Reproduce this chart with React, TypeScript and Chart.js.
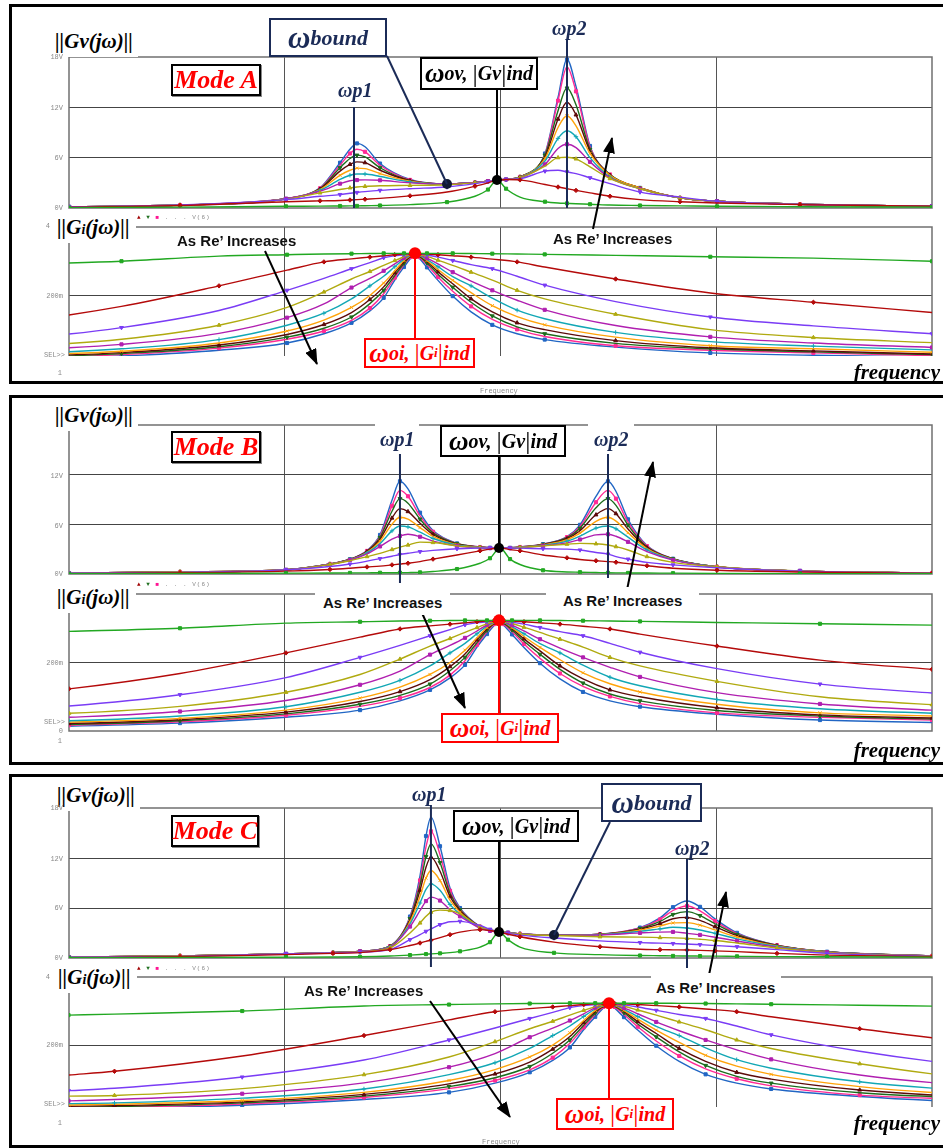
import React, { useEffect, useRef } from "react";
import { Chart, registerables } from "chart.js";
Chart.register(...registerables);

// ---------- series meta (index 0 = lowest Re', 10 = highest Re') ----------
const SERIES_NAMES = ["Re'1", "Re'2", "Re'3", "Re'4", "Re'5", "Re'6", "Re'7", "Re'8", "Re'9", "Re'10", "Re'11"];
const COLORS = ["#22a822", "#b40a0a", "#7a3cf5", "#b0aa10", "#b01fb0", "#12a7b5", "#ffa30a", "#5c0a0a", "#1d6b1d", "#ff2a95", "#2166c4"];
const POINT_STYLES = ["rect", "rectRot", "triangle", "triangle", "rect", "cross", "crossRot", "triangle", "triangle", "rect", "rect"];
const POINT_ROT = [0, 0, 180, 0, 0, 0, 0, 0, 180, 0, 0];
const X_GRID = [10, 100, 1000];

// ---------- Mode A : ||Gv(jw)|| ----------
const FREQ_GV_A = [1, 3.27, 10.13, 14.57, 18.04, 20.06, 21.62, 23.55, 27.64, 38.07, 56.49, 76.17, 87.5, 96.3, 106.1, 123.1, 160.8, 184.8, 203.3, 223.8, 259.9, 321.7, 443.2, 679.2, 1008, 2444, 10000];
const gvA_green = [0.05, 0.1, 0.2, 0.22, 0.24, 0.25, 0.25, 0.27, 0.3, 0.4, 0.7, 1.4, 2.2, 3.34, 2.3, 1.3, 0.75, 0.6, 0.55, 0.5, 0.45, 0.35, 0.3, 0.25, 0.2, 0.15, 0.1];
const gvA_red = [0.1, 0.3, 0.75, 0.85, 0.9, 0.95, 1.0, 1.05, 1.15, 1.45, 1.9, 2.6, 3.0, 3.34, 3.4, 3.35, 2.8, 2.5, 2.3, 2.1, 1.8, 1.4, 1.0, 0.75, 0.6, 0.4, 0.2];
const gvA_violet = [0.15, 0.35, 1.0, 1.4, 1.6, 1.75, 1.85, 1.95, 2.1, 2.3, 2.5, 2.9, 3.15, 3.34, 3.42, 3.5, 4.4, 4.5, 4.3, 4.1, 3.6, 2.9, 1.9, 1.3, 0.8, 0.45, 0.22];
const gvA_olive = [0.15, 0.35, 1.05, 1.8, 2.2, 2.4, 2.5, 2.58, 2.65, 2.7, 2.78, 3.0, 3.18, 3.34, 3.42, 3.6, 5.0, 6.0, 6.05, 5.85, 4.9, 3.5, 2.3, 1.2, 0.8, 0.45, 0.22];
const gvA_magenta = [0.15, 0.35, 1.1, 2.0, 2.9, 3.25, 3.33, 3.35, 3.3, 3.0, 2.86, 3.05, 3.2, 3.34, 3.4, 3.62, 5.2, 7.1, 7.6, 7.2, 5.5, 3.6, 2.3, 1.2, 0.8, 0.45, 0.22];
const gvA_cyan = [0.15, 0.35, 1.1, 2.1, 3.4, 3.9, 4.05, 4.05, 3.75, 3.1, 2.86, 3.05, 3.2, 3.34, 3.4, 3.65, 5.6, 8.3, 9.2, 8.5, 6.0, 3.7, 2.3, 1.2, 0.8, 0.45, 0.22];
const gvA_orange = [0.15, 0.35, 1.1, 2.2, 3.9, 4.5, 4.75, 4.7, 4.1, 3.2, 2.86, 3.05, 3.2, 3.34, 3.4, 3.68, 5.9, 9.6, 11.0, 9.8, 6.5, 3.9, 2.4, 1.2, 0.8, 0.45, 0.22];
const gvA_brown = [0.15, 0.35, 1.1, 2.25, 4.4, 5.2, 5.5, 5.4, 4.5, 3.25, 2.86, 3.05, 3.2, 3.34, 3.4, 3.7, 6.1, 10.6, 12.6, 11.1, 6.8, 3.9, 2.4, 1.2, 0.8, 0.45, 0.22];
const gvA_dkgreen = [0.15, 0.35, 1.1, 2.3, 4.8, 5.9, 6.3, 6.1, 4.8, 3.3, 2.86, 3.05, 3.2, 3.34, 3.4, 3.7, 6.3, 11.6, 14.3, 12.3, 7.0, 4.0, 2.4, 1.2, 0.8, 0.45, 0.22];
const gvA_pink = [0.15, 0.35, 1.1, 2.35, 5.1, 6.5, 7.0, 6.7, 5.1, 3.35, 2.86, 3.05, 3.2, 3.34, 3.4, 3.7, 6.4, 12.8, 16.8, 13.9, 7.3, 4.0, 2.4, 1.2, 0.8, 0.45, 0.22];
const gvA_blue = [0.15, 0.35, 1.1, 2.4, 5.4, 7.0, 7.7, 7.3, 5.3, 3.4, 2.86, 3.05, 3.2, 3.34, 3.4, 3.7, 6.5, 13.2, 17.7, 14.5, 7.4, 4.0, 2.4, 1.2, 0.8, 0.45, 0.22];

// ---------- Mode B : ||Gv(jw)|| ----------
const FREQ_GV_B = [1, 3.27, 10.13, 16.2, 20.06, 24.06, 27.64, 31.41, 34.2, 37.26, 42.37, 48.66, 62.86, 80.36, 89.4, 99.47, 110.7, 123.1, 157.4, 203.3, 233.6, 277.1, 314.9, 343.0, 389.9, 477.5, 630.2, 1008, 2444, 10000];
const gvB_green = [0.03, 0.06, 0.1, 0.12, 0.13, 0.14, 0.15, 0.15, 0.16, 0.17, 0.2, 0.3, 0.6, 1.3, 1.9, 3.14, 1.8, 1.15, 0.45, 0.25, 0.22, 0.18, 0.15, 0.14, 0.13, 0.12, 0.1, 0.08, 0.05, 0.03];
const gvB_red = [0.05, 0.15, 0.35, 0.55, 0.7, 0.85, 0.95, 1.1, 1.2, 1.3, 1.5, 1.8, 2.3, 2.8, 3.0, 3.14, 2.95, 2.8, 2.3, 1.95, 1.75, 1.6, 1.5, 1.42, 1.25, 1.0, 0.7, 0.45, 0.25, 0.08];
const gvB_violet = [0.1, 0.2, 0.5, 0.9, 1.2, 1.55, 1.85, 2.15, 2.35, 2.5, 2.7, 2.85, 3.05, 3.15, 3.15, 3.14, 3.14, 3.12, 3.05, 3.0, 2.9, 2.6, 2.4, 2.1, 1.8, 1.4, 1.1, 0.75, 0.35, 0.1];
const gvB_olive = [0.1, 0.25, 0.5, 1.15, 1.6, 2.1, 2.5, 2.95, 3.25, 3.5, 3.85, 3.8, 3.4, 3.2, 3.15, 3.14, 3.15, 3.2, 3.4, 3.6, 3.7, 3.65, 3.5, 3.3, 2.9, 2.1, 1.4, 0.85, 0.37, 0.12];
const gvB_magenta = [0.1, 0.25, 0.5, 1.18, 1.68, 2.43, 3.33, 4.2, 4.6, 4.8, 4.5, 3.97, 3.39, 3.17, 3.12, 3.1, 3.12, 3.19, 3.41, 3.76, 4.17, 4.73, 4.8, 4.56, 3.88, 2.7, 1.68, 0.85, 0.38, 0.12];
const gvB_cyan = [0.1, 0.25, 0.5, 1.19, 1.71, 2.54, 3.67, 5.21, 5.8, 5.69, 5.05, 4.29, 3.49, 3.2, 3.14, 3.11, 3.14, 3.21, 3.47, 3.97, 4.58, 5.55, 5.8, 5.46, 4.45, 2.9, 1.73, 0.86, 0.38, 0.12];
const gvB_orange = [0.1, 0.25, 0.51, 1.2, 1.73, 2.63, 3.96, 6.01, 6.85, 6.63, 5.61, 4.55, 3.55, 3.22, 3.15, 3.12, 3.15, 3.23, 3.52, 4.14, 4.94, 6.37, 6.85, 6.39, 4.98, 3.06, 1.77, 0.87, 0.38, 0.12];
const gvB_brown = [0.1, 0.25, 0.51, 1.2, 1.75, 2.7, 4.2, 6.76, 7.9, 7.54, 6.12, 4.77, 3.6, 3.24, 3.17, 3.13, 3.16, 3.24, 3.55, 4.27, 5.24, 7.15, 7.9, 7.29, 5.44, 3.18, 1.8, 0.87, 0.38, 0.12];
const gvB_dkgreen = [0.1, 0.25, 0.51, 1.21, 1.77, 2.75, 4.42, 7.58, 9.1, 8.56, 6.63, 4.97, 3.65, 3.25, 3.17, 3.14, 3.17, 3.25, 3.58, 4.38, 5.53, 8.0, 9.1, 8.29, 5.91, 3.29, 1.82, 0.88, 0.38, 0.12];
const gvB_pink = [0.1, 0.25, 0.51, 1.21, 1.78, 2.79, 4.58, 8.23, 10.1, 9.39, 7.02, 5.11, 3.68, 3.26, 3.18, 3.14, 3.17, 3.26, 3.6, 4.46, 5.74, 8.67, 10.1, 9.1, 6.26, 3.37, 1.83, 0.88, 0.38, 0.12];
const gvB_blue = [0.1, 0.25, 0.51, 1.21, 1.78, 2.83, 4.72, 8.91, 11.2, 10.28, 7.41, 5.25, 3.7, 3.26, 3.18, 3.14, 3.17, 3.26, 3.61, 4.53, 5.94, 9.38, 11.2, 9.97, 6.61, 3.44, 1.85, 0.88, 0.38, 0.12];

// ---------- Mode C : ||Gv(jw)|| ----------
const FREQ_GV_C = [1, 3.27, 10.13, 16.73, 22.33, 30.75, 38.07, 42.37, 45.15, 47.63, 52.44, 58.34, 64.91, 80.36, 89.4, 98.42, 108.3, 123.1, 177.0, 289.2, 443.2, 548.8, 630.2, 731.9, 840.9, 986.7, 1248, 1912, 3261, 10000];
const gvC_green = [0.03, 0.06, 0.1, 0.12, 0.15, 0.24, 0.35, 0.42, 0.47, 0.5, 0.56, 0.64, 0.8, 1.3, 1.9, 3.12, 2.2, 1.3, 0.62, 0.4, 0.3, 0.27, 0.25, 0.24, 0.23, 0.22, 0.2, 0.17, 0.15, 0.1];
const gvC_red = [0.05, 0.15, 0.4, 0.55, 0.65, 1.0, 1.5, 1.8, 2.0, 2.15, 2.45, 2.8, 3.1, 3.4, 3.3, 3.12, 2.85, 2.55, 1.9, 1.35, 1.05, 1.0, 0.98, 0.96, 0.92, 0.86, 0.76, 0.55, 0.35, 0.15];
const gvC_violet = [0.1, 0.2, 0.5, 0.6, 0.7, 1.0, 2.2, 2.8, 3.2, 3.5, 4.0, 4.35, 4.4, 3.9, 3.45, 3.12, 2.95, 2.75, 2.4, 2.05, 1.85, 1.78, 1.73, 1.68, 1.6, 1.5, 1.35, 1.0, 0.55, 0.2];
const gvC_olive = [0.1, 0.25, 0.5, 0.62, 0.75, 1.2, 3.0, 4.2, 5.0, 5.5, 5.75, 5.7, 5.3, 3.75, 3.4, 3.12, 3.0, 2.85, 2.7, 2.55, 2.5, 2.45, 2.42, 2.36, 2.25, 2.1, 1.8, 1.2, 0.65, 0.22];
const gvC_magenta = [0.1, 0.25, 0.5, 0.65, 0.8, 1.3, 3.77, 5.7, 6.83, 7.3, 6.89, 5.79, 5.0, 3.58, 3.25, 3.07, 3.03, 2.89, 2.73, 2.76, 3.01, 3.11, 3.13, 2.96, 2.77, 2.49, 2.04, 1.31, 0.7, 0.24];
const gvC_cyan = [0.1, 0.25, 0.5, 0.65, 0.8, 1.35, 4.09, 6.6, 8.23, 8.9, 8.13, 6.41, 5.27, 3.64, 3.28, 3.1, 3.04, 2.9, 2.74, 2.8, 3.2, 3.5, 3.69, 3.6, 3.36, 2.96, 2.3, 1.39, 0.72, 0.24];
const gvC_orange = [0.1, 0.25, 0.5, 0.65, 0.8, 1.38, 4.35, 7.4, 9.59, 10.5, 9.3, 6.94, 5.49, 3.69, 3.31, 3.11, 3.05, 2.9, 2.75, 2.83, 3.34, 3.84, 4.21, 4.24, 3.94, 3.37, 2.51, 1.44, 0.74, 0.24];
const gvC_brown = [0.1, 0.25, 0.5, 0.65, 0.8, 1.4, 4.56, 8.12, 10.9, 12.1, 10.41, 7.38, 5.66, 3.72, 3.32, 3.12, 3.05, 2.9, 2.75, 2.84, 3.44, 4.13, 4.71, 4.88, 4.51, 3.75, 2.68, 1.48, 0.75, 0.24];
const gvC_dkgreen = [0.1, 0.25, 0.5, 0.65, 0.8, 1.42, 4.72, 8.76, 12.17, 13.7, 11.46, 7.76, 5.79, 3.75, 3.34, 3.13, 3.05, 2.9, 2.75, 2.86, 3.53, 4.39, 5.22, 5.56, 5.09, 4.11, 2.82, 1.51, 0.75, 0.24];
const gvC_pink = [0.1, 0.25, 0.5, 0.65, 0.8, 1.43, 4.86, 9.31, 13.34, 15.2, 12.4, 8.08, 5.9, 3.77, 3.35, 3.13, 3.05, 2.9, 2.76, 2.87, 3.6, 4.63, 5.7, 6.24, 5.66, 4.43, 2.93, 1.53, 0.76, 0.24];
const gvC_blue = [0.1, 0.25, 0.5, 0.65, 0.8, 1.45, 4.98, 9.88, 14.63, 16.9, 13.41, 8.39, 6.0, 3.78, 3.36, 3.14, 3.05, 2.9, 2.76, 2.87, 3.65, 4.81, 6.1, 6.84, 6.14, 4.7, 3.02, 1.54, 0.76, 0.24];

// ---------- ||Gi(jw)|| (values in m, same curve family, read around each wOi) ----------
const FREQ_GI_A = [0.398, 0.589, 1.751, 4.958, 10.25, 15.19, 20.39, 24.81, 28.74, 32.36, 35.7, 38.23, 40.16, 42.17, 45.63, 51.32, 60.04, 73.06, 91.62, 119.4, 160.3, 341.7, 938.5, 2820, 10000];
const FREQ_GI_B = [0.6527, 1, 3.27, 10.13, 22.33, 34.2, 47.13, 58.34, 68.46, 77.83, 86.57, 93.31, 98.42, 103.8, 113.1, 128.5, 152.4, 188.7, 241.2, 321.7, 443.2, 1008, 3026, 10000, 39620];
const FREQ_GI_C = [0.9947, 1.625, 6.351, 23.29, 57.72, 94.29, 136.6, 174.6, 209.7, 243.0, 274.8, 299.5, 318.4, 338.5, 373.6, 432.6, 526.9, 673.5, 892.6, 1244, 1797, 4623, 16340, 64710, 314100];
const gi_green = [288, 291, 300, 315, 319, 321, 322, 322.5, 323, 323, 323, 323, 323, 323, 323, 323, 323, 322.5, 322, 321, 320, 317, 313, 309, 300];
const gi_red = [112, 123, 168, 228, 274, 298, 307, 312, 316, 319, 321, 322, 323, 322, 321, 319, 316, 312, 306, 298, 283, 248, 207, 180, 150];
const gi_violet = [66, 73, 106, 156, 215, 250, 278, 296, 310, 316, 319, 322, 323, 321, 318, 312, 302, 290, 278, 256, 230, 182, 137, 111, 88];
const gi_olive = [50, 52, 72, 113, 165, 210, 248, 270, 288, 302, 313, 320, 323, 320, 314, 303, 288, 268, 245, 215, 190, 145, 100, 77, 62];
const gi_magenta = [36, 40, 57, 89, 135, 175, 223, 250, 272, 292, 310, 319, 323, 319, 309, 292, 268, 242, 215, 186, 158, 112, 79, 61, 48];
const gi_cyan = [28, 30, 44, 71, 113, 148, 190, 228, 256, 284, 306, 318, 323, 318, 305, 284, 255, 228, 192, 157, 132, 92, 65, 52, 41];
const gi_orange = [24, 26, 37, 61, 96, 128, 165, 200, 236, 272, 302, 316, 323, 317, 302, 276, 244, 208, 170, 138, 114, 78, 53, 44, 34];
const gi_brown = [20, 22, 33, 55, 86, 115, 150, 188, 225, 266, 298, 315, 323, 316, 299, 269, 234, 190, 152, 120, 100, 68, 47, 38, 29];
const gi_dkgreen = [17, 19, 30, 50, 78, 104, 137, 176, 215, 258, 294, 314, 323, 314, 295, 262, 224, 180, 140, 108, 88, 60, 44, 35, 27];
const gi_pink = [15, 17, 27, 46, 72, 96, 127, 163, 205, 252, 290, 312, 323, 312, 290, 254, 212, 168, 130, 101, 80, 53, 40, 32, 24];
const gi_blue = [12, 14, 23, 40, 61, 88, 120, 155, 193, 245, 283, 308, 323, 308, 282, 244, 198, 152, 114, 88, 71, 49, 32, 25, 20];

// ---------- special frequencies / points ----------
const WP_A = [20.94, 203.3];
const WP_B = [34.2, 314.9];
const WP_C = [47.6, 731.9];
const WOV_A = [96.3, 3.34];
const WOV_B = [98.42, 3.14];
const WOV_C = [98.42, 3.12];
const WBOUND_A = [56.49, 2.86];
const WBOUND_C = [177.0, 2.76];
const WOI_A = [40.16, 323];
const WOI_B = [98.42, 323];
const WOI_C = [318.4, 323];

const GV_A = [gvA_green, gvA_red, gvA_violet, gvA_olive, gvA_magenta, gvA_cyan, gvA_orange, gvA_brown, gvA_dkgreen, gvA_pink, gvA_blue];
const GV_B = [gvB_green, gvB_red, gvB_violet, gvB_olive, gvB_magenta, gvB_cyan, gvB_orange, gvB_brown, gvB_dkgreen, gvB_pink, gvB_blue];
const GV_C = [gvC_green, gvC_red, gvC_violet, gvC_olive, gvC_magenta, gvC_cyan, gvC_orange, gvC_brown, gvC_dkgreen, gvC_pink, gvC_blue];
const GI = [gi_green, gi_red, gi_violet, gi_olive, gi_magenta, gi_cyan, gi_orange, gi_brown, gi_dkgreen, gi_pink, gi_blue];

const NAVY = "#1b2b57";
const SERIF = '"Liberation Serif", "Times New Roman", serif';
const SANS = '"Liberation Sans", Arial, sans-serif';
const MONO = '"Liberation Mono", "DejaVu Sans Mono", monospace';
const M = 40;

function SubChart(p: any) {
  const ref = useRef<HTMLCanvasElement | null>(null);
  const top = p.plotTop - M;
  const h = p.plotBottom - p.plotTop + 2 * M;
  useEffect(() => {
    const vlines = p.vlines || [];
    const dots = p.dots || [];
    const deco = {
      id: "deco",
      beforeDatasetsDraw(chart: any) {
        const { ctx, chartArea: a } = chart;
        ctx.save();
        ctx.strokeStyle = "#707070";
        ctx.lineWidth = 1.5;
        ctx.beginPath();
        if (p.bottomLine) {
          ctx.rect(a.left, a.top, a.right - a.left, a.bottom - a.top);
        } else {
          ctx.moveTo(a.left, a.bottom);
          ctx.lineTo(a.left, a.top);
          ctx.lineTo(a.right, a.top);
          ctx.lineTo(a.right, a.bottom);
        }
        ctx.stroke();
        ctx.restore();
      },
      afterDatasetsDraw(chart: any) {
        const { ctx } = chart;
        const xs = chart.scales.x;
        const ys = chart.scales.y;
        ctx.save();
        vlines.forEach((l: any) => {
          const x = xs.getPixelForValue(l.f);
          const y0 = l.v !== undefined ? ys.getPixelForValue(l.v) : l.y0 - top;
          ctx.strokeStyle = l.color;
          ctx.lineWidth = l.width;
          ctx.beginPath();
          ctx.moveTo(x, y0);
          ctx.lineTo(x, l.y1 - top);
          ctx.stroke();
        });
        dots.forEach((d: any) => {
          ctx.fillStyle = d.color;
          ctx.beginPath();
          ctx.arc(xs.getPixelForValue(d.f), ys.getPixelForValue(d.v), d.r, 0, Math.PI * 2);
          ctx.fill();
        });
        ctx.restore();
      },
    };
    const chart = new Chart(ref.current as HTMLCanvasElement, {
      type: "line",
      data: {
        datasets: p.series.map((vals: number[], k: number) => ({
          label: SERIES_NAMES[k],
          data: vals.map((v, i) => ({ x: p.freq[i], y: v })),
          borderColor: COLORS[k],
          backgroundColor: COLORS[k],
          borderWidth: 1.4,
          cubicInterpolationMode: "monotone",
          fill: false,
          pointStyle: POINT_STYLES[k],
          pointRotation: POINT_ROT[k],
          pointRadius: (ctx: any) => (ctx.dataIndex % 2 === k % 2 ? 2.2 : 0),
          pointBorderWidth: 1,
          pointHoverRadius: 0,
        })),
      },
      options: {
        animation: false,
        responsive: false,
        maintainAspectRatio: false,
        devicePixelRatio: 1,
        events: [],
        layout: { padding: { left: 69, right: 11, top: M, bottom: M } },
        plugins: { legend: { display: false }, tooltip: { enabled: false } },
        scales: {
          x: {
            type: "logarithmic",
            min: 1,
            max: 10000,
            afterFit: (s: any) => { s.height = 0; },
            afterBuildTicks: (s: any) => { s.ticks = X_GRID.map((v) => ({ value: v })); },
            ticks: { display: false },
            grid: { color: "#555", lineWidth: 1, drawTicks: false },
            border: { display: false },
          },
          y: {
            type: "linear",
            min: p.yMin,
            max: p.yMax,
            afterFit: (s: any) => { s.width = 0; },
            afterBuildTicks: (s: any) => { s.ticks = p.yGrid.map((v: number) => ({ value: v })); },
            ticks: { display: false },
            grid: { color: "#444", lineWidth: 1, drawTicks: false },
            border: { display: false },
          },
        },
      } as any,
      plugins: [deco],
    } as any);
    return () => chart.destroy();
  }, []);
  return <canvas ref={ref} width={943} height={h} style={{ position: "absolute", left: 0, top, width: 943, height: h, zIndex: 1 }} />;
}

const abs = (x: number, y: number, extra: any = {}) => ({ position: "absolute" as const, left: x, top: y, whiteSpace: "nowrap" as const, lineHeight: 1, zIndex: 3, ...extra });

function Tick({ x, y, t }: any) {
  return <div style={{ position: "absolute", right: 943 - x, top: y - 4, font: `7px ${MONO}`, color: "#8a8a8a", lineHeight: "8px", zIndex: 3, whiteSpace: "nowrap" }}>{t}</div>;
}

function GvLabel({ x, y }: any) {
  return (
    <div style={abs(x, y, { font: `italic bold 21px ${SERIF}`, background: "#fff", padding: "2px 5px 3px 3px", lineHeight: "22px" })}>||Gv(jω)||</div>
  );
}
function GiLabel({ x, y }: any) {
  return (
    <div style={abs(x, y, { font: `italic bold 21px ${SERIF}`, background: "#fff", padding: "2px 6px 3px 3px", lineHeight: "22px" })}>
      ||G<span style={{ fontSize: 14 }}>i</span>(jω)||
    </div>
  );
}
function Legend({ x, y }: any) {
  return (
    <div style={abs(x, y, { font: `6px ${MONO}`, color: "#888", letterSpacing: 1 })}>
      <span style={{ color: "#a00000" }}>▲</span> <span style={{ color: "#207020" }}>▼</span> <span style={{ color: "#ff1493" }}>■</span> . . . V(6)
    </div>
  );
}
function ModeBox({ x, y, w, t }: any) {
  return (
    <div style={abs(x, y, { width: w, height: 32, boxSizing: "border-box", border: "2px solid #000", background: "#fff", boxShadow: "1px 1px 0 #888", display: "flex", alignItems: "center", justifyContent: "center", font: `italic bold 26px ${SERIF}`, color: "#ff0000" })}>{t}</div>
  );
}
function BoundBox({ x, y, w }: any) {
  return (
    <div style={abs(x, y, { width: w, height: 39, boxSizing: "border-box", border: `2px solid ${NAVY}`, background: "#fff", display: "flex", alignItems: "center", justifyContent: "center", font: `italic bold 22px ${SERIF}`, color: NAVY })}>
      <span style={{ fontSize: 31 }}>ω</span>bound
    </div>
  );
}
function OvBox({ x, y, w, h }: any) {
  return (
    <div style={abs(x, y, { width: w, height: h, boxSizing: "border-box", border: "2px solid #000", background: "#fff", display: "flex", alignItems: "center", justifyContent: "center", font: `italic bold 20px ${SERIF}`, color: "#000" })}>
      <span style={{ fontSize: 27 }}>ω</span>ov,&nbsp;<span style={{ fontStyle: "normal", fontWeight: 400, fontSize: 26 }}>|</span>Gv<span style={{ fontStyle: "normal", fontWeight: 400, fontSize: 26 }}>|</span>ind
    </div>
  );
}
function OiBox({ x, y, w, h }: any) {
  return (
    <div style={abs(x, y, { width: w, height: h, boxSizing: "border-box", border: "2px solid #ff0000", background: "#fff", display: "flex", alignItems: "center", justifyContent: "center", font: `italic bold 20px ${SERIF}`, color: "#ff0000" })}>
      <span style={{ fontSize: 27 }}>ω</span>oi,&nbsp;<span style={{ fontStyle: "normal", fontWeight: 400, fontSize: 26 }}>|</span>G<span style={{ fontSize: 13 }}>i</span><span style={{ fontStyle: "normal", fontWeight: 400, fontSize: 26 }}>|</span>ind
    </div>
  );
}
function Wp({ x, y, n, bg, pad }: any) {
  return (
    <div style={abs(x, y, { font: `italic bold 20px ${SERIF}`, color: NAVY, background: bg ? "#fff" : "transparent", padding: pad || 0, lineHeight: "20px" })}>
      ωp{n}
    </div>
  );
}
function ReInc({ x, y, bg, pad }: any) {
  return (
    <div style={abs(x, y, { font: `bold 15px ${SANS}`, color: "#111", background: bg ? "#fff" : "transparent", padding: pad || 0, lineHeight: "17px" })}>As Re’ Increases</div>
  );
}
function Freq({ y }: any) {
  return <div style={{ position: "absolute", right: 3, top: y, font: `italic bold 21px ${SERIF}`, lineHeight: "22px", zIndex: 3, whiteSpace: "nowrap" }}>frequency</div>;
}
function Panel({ y, h }: any) {
  return <div style={{ position: "absolute", left: 9, top: y, width: 950, height: h, boxSizing: "border-box", borderTop: "3px solid #000", borderLeft: "3px solid #000", borderBottom: "3px solid #000", zIndex: 5, pointerEvents: "none" }} />;
}

const ARROWS = [
  [593, 229, 612, 138],
  [265, 251, 317, 364],
  [627, 590, 653, 462],
  [422, 613, 465, 708],
  [709, 975, 726, 892],
  [430, 1001, 510, 1117],
];
const LEADERS = [
  [387, 56, 447, 184, NAVY],
  [497, 90, 497, 180, "#000"],
  [499, 457, 499, 548, "#000"],
  [499, 842, 499, 932, "#000"],
  [610, 822, 554, 935, NAVY],
];

export default function App() {
  useEffect(() => {
    document.body.style.margin = "0";
  }, []);
  const gvCommon = { yMin: 0, yMax: 18, yGrid: [6, 12], bottomLine: true };
  return (
    <div style={{ position: "absolute", left: 0, top: 0, width: 943, height: 1148, overflow: "hidden", background: "#fff" }}>
      {/* Mode A */}
      <SubChart freq={FREQ_GV_A} series={GV_A} plotTop={57} plotBottom={208} {...gvCommon}
        vlines={[{ f: WP_A[0], y0: 107, y1: 208, color: NAVY, width: 2 }, { f: WP_A[1], y0: 39, y1: 208, color: NAVY, width: 2 }]}
        dots={[{ f: WBOUND_A[0], v: WBOUND_A[1], r: 5, color: "#111a33" }, { f: WOV_A[0], v: WOV_A[1], r: 5, color: "#000" }]} />
      <SubChart freq={FREQ_GI_A} series={GI} plotTop={227} plotBottom={356} yMin={23} yMax={400} yGrid={[200]} bottomLine={false}
        vlines={[{ f: WOI_A[0], v: WOI_A[1], y1: 338, color: "#ff0000", width: 2 }]}
        dots={[{ f: WOI_A[0], v: WOI_A[1], r: 6, color: "#ff0000" }]} />
      {/* Mode B */}
      <SubChart freq={FREQ_GV_B} series={GV_B} plotTop={425} plotBottom={574} {...gvCommon}
        vlines={[{ f: WP_B[0], y0: 450, y1: 583, color: NAVY, width: 2 }, { f: WP_B[1], y0: 450, y1: 578, color: NAVY, width: 2 }]}
        dots={[{ f: WOV_B[0], v: WOV_B[1], r: 5, color: "#000" }]} />
      <SubChart freq={FREQ_GI_B} series={GI} plotTop={594} plotBottom={731} yMin={0} yMax={400} yGrid={[200]} bottomLine={true}
        vlines={[{ f: WOI_B[0], v: WOI_B[1], y1: 713, color: "#ff0000", width: 2 }]}
        dots={[{ f: WOI_B[0], v: WOI_B[1], r: 6, color: "#ff0000" }]} />
      {/* Mode C */}
      <SubChart freq={FREQ_GV_C} series={GV_C} plotTop={808} plotBottom={958} {...gvCommon}
        vlines={[{ f: WP_C[0], y0: 805, y1: 967, color: NAVY, width: 2 }, { f: WP_C[1], y0: 859, y1: 968, color: NAVY, width: 2 }]}
        dots={[{ f: WOV_C[0], v: WOV_C[1], r: 5, color: "#000" }, { f: WBOUND_C[0], v: WBOUND_C[1], r: 5, color: "#111a33" }]} />
      <SubChart freq={FREQ_GI_C} series={GI} plotTop={977} plotBottom={1107} yMin={18} yMax={400} yGrid={[200]} bottomLine={false}
        vlines={[{ f: WOI_C[0], v: WOI_C[1], y1: 1098, color: "#ff0000", width: 2 }]}
        dots={[{ f: WOI_C[0], v: WOI_C[1], r: 6, color: "#ff0000" }]} />

      <svg width={943} height={1148} style={{ position: "absolute", left: 0, top: 0, zIndex: 2 }}>
        <defs>
          <marker id="ah" markerUnits="userSpaceOnUse" markerWidth="16" markerHeight="12" viewBox="0 0 16 12" refX="15" refY="6" orient="auto">
            <path d="M0,0 L16,6 L0,12 z" fill="#000" />
          </marker>
        </defs>
        {ARROWS.map(([x1, y1, x2, y2], i) => (
          <line key={"a" + i} x1={x1} y1={y1} x2={x2} y2={y2} stroke="#000" strokeWidth={2} markerEnd="url(#ah)" />
        ))}
        {LEADERS.map(([x1, y1, x2, y2, c], i) => (
          <line key={"l" + i} x1={x1 as number} y1={y1 as number} x2={x2 as number} y2={y2 as number} stroke={c as string} strokeWidth={2} />
        ))}
      </svg>

      {/* ----- Panel A texts ----- */}
      <GvLabel x={52} y={27} />
      <GiLabel x={54} y={213} />
      <Legend x={137} y={214} />
      <ModeBox x={171} y={64} w={90} t="Mode A" />
      <BoundBox x={269} y={18} w={118} />
      <Wp x={338} y={79} n={1} />
      <OvBox x={420} y={57} w={118} h={33} />
      <Wp x={552} y={17} n={2} />
      <ReInc x={177} y={232} />
      <ReInc x={553} y={230} />
      <OiBox x={364} y={338} w={111} h={30} />
      <Freq y={361} />
      <Tick x={63} y={57} t="18V" />
      <Tick x={63} y={108} t="12V" />
      <Tick x={63} y={158} t="6V" />
      <Tick x={63} y={208} t="0V" />
      <Tick x={50} y={226} t="4" />
      <Tick x={63} y={296} t="200m" />
      <Tick x={65} y={355} t="SEL>>" />
      <Tick x={62} y={373} t="1" />
      <div style={abs(480, 387, { font: `7px ${MONO}`, color: "#8a8a8a" })}>Frequency</div>

      {/* ----- Panel B texts ----- */}
      <GvLabel x={52} y={401} />
      <GiLabel x={54} y={583} />
      <Legend x={137} y={581} />
      <ModeBox x={171} y={431} w={90} t="Mode B" />
      <Wp x={375} y={419} n={1} bg pad="9px 5px 3px 5px" />
      <OvBox x={440} y={425} w={126} h={32} />
      <Wp x={588} y={419} n={2} bg pad="9px 6px 3px 6px" />
      <ReInc x={315} y={588} bg pad="6px 8px 4px 8px" />
      <ReInc x={546} y={587} bg pad="5px 17px 4px 17px" />
      <OiBox x={441} y={713} w={118} h={30} />
      <Freq y={739} />
      <Tick x={63} y={476} t="12V" />
      <Tick x={63} y={526} t="6V" />
      <Tick x={63} y={574} t="0V" />
      <Tick x={63} y={663} t="200m" />
      <Tick x={65} y={722} t="SEL>>" />
      <Tick x={63} y={731} t="0" />
      <Tick x={62} y={741} t="1" />

      {/* ----- Panel C texts ----- */}
      <GvLabel x={54} y={781} />
      <GiLabel x={55} y={963} />
      <Legend x={137} y={965} />
      <ModeBox x={171} y={815} w={88} t="Mode C" />
      <Wp x={412} y={783} n={1} />
      <OvBox x={453} y={810} w={126} h={32} />
      <BoundBox x={601} y={783} w={101} />
      <Wp x={675} y={837} n={2} />
      <ReInc x={304} y={982} />
      <ReInc x={651} y={973} bg pad="6px 6px 3px 5px" />
      <OiBox x={556} y={1098} w={118} h={32} />
      <Freq y={1112} />
      <Tick x={63} y={808} t="18V" />
      <Tick x={63} y={859} t="12V" />
      <Tick x={63} y={908} t="6V" />
      <Tick x={63} y={958} t="0V" />
      <Tick x={50} y={977} t="4" />
      <Tick x={63} y={1045} t="200m" />
      <Tick x={65} y={1104} t="SEL>>" />
      <Tick x={62} y={1123} t="1" />
      <div style={abs(482, 1138, { font: `7px ${MONO}`, color: "#8a8a8a" })}>Frequency</div>

      <Panel y={4} h={380} />
      <Panel y={395} h={370} />
      <Panel y={774} h={374} />
    </div>
  );
}
